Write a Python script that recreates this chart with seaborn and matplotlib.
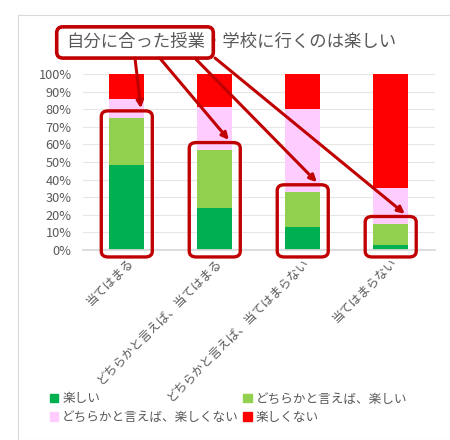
import matplotlib
matplotlib.use("Agg")
import matplotlib.pyplot as plt
import seaborn as sns
import numpy as np
import pandas as pd
from matplotlib.patches import FancyBboxPatch, Rectangle

categories = ["当てはまる", "どちらかと言えば、当てはまる", "どちらかと言えば、当てはまらない", "当てはまらない"]
series_names = ["楽しい", "どちらかと言えば、楽しい", "どちらかと言えば、楽しくない", "楽しくない"]
tanoshii = [48, 24, 13, 3]
dochira_tanoshii = [27, 33, 20, 12]
dochira_tanoshikunai = [11, 24, 47, 20]
tanoshikunai = [14, 19, 20, 65]
colors = ["#00B050", "#92D050", "#FFCCFF", "#FF0000"]
title = "自分に合った授業・学校に行くのは楽しい"
yticks = list(range(0, 101, 10))

sns.set_theme(style="white")
plt.rcParams["font.family"] = ["Noto Sans CJK JP", "DejaVu Sans"]

fig = plt.figure(figsize=(4.5, 4.4), dpi=100)
ax = fig.add_axes([0.184, 0.432, 0.782, 0.40])

series = [tanoshii, dochira_tanoshii, dochira_tanoshikunai, tanoshikunai]
cum = np.cumsum(np.array(series), axis=0)
for i in range(3, -1, -1):
    df = pd.DataFrame({"cat": categories, "val": cum[i]})
    sns.barplot(data=df, x="cat", y="val", color=colors[i], width=0.4,
                saturation=1, ax=ax, edgecolor="none", zorder=2)

ax.set_ylim(0, 100)
ax.set_xlim(-0.5, 3.5)
ax.set_yticks(yticks)
ax.set_yticklabels([f"{v}%" for v in yticks], fontsize=9.2, color="#595959")
ax.yaxis.grid(True, color="#E6E6E6", linewidth=0.8, zorder=0)
ax.set_axisbelow(True)
for s in ax.spines.values():
    s.set_visible(False)
ax.spines["bottom"].set_visible(True)
ax.spines["bottom"].set_color("#D9D9D9")
ax.tick_params(axis="y", length=0, pad=8)
ax.tick_params(axis="x", length=0, pad=4)
ax.set_xticks(range(len(categories)))
ax.set_xticklabels(categories, rotation=45, ha="right", rotation_mode="anchor",
                   fontsize=8.8, color="#595959")
ax.set_xlabel("")
ax.set_ylabel("")

# title
fig.text(0.513, 0.905, title, ha="center", va="center", fontsize=12.5, color="#595959")

# annotation: red box around title part
fig.patches.append(FancyBboxPatch((0.13, 0.872), 0.34, 0.063,
                                  boxstyle="round,pad=0.004,rounding_size=0.014",
                                  transform=fig.transFigure, fill=False,
                                  edgecolor="#C00000", linewidth=2.6, zorder=10))

# red boxes around green stacks and arrows
starts = [0.30, 0.355, 0.433, 0.478]
green_top = cum[1]
for i in range(4):
    top = green_top[i] + 4
    ax.add_patch(FancyBboxPatch((i - 0.29, -4), 0.58, top + 4,
                                boxstyle="round,pad=0,rounding_size=0.08",
                                mutation_aspect=40,
                                fill=False, edgecolor="#C00000", linewidth=2.4,
                                clip_on=False, zorder=5))
    ax.annotate("", xy=(i + 0.16, top + 1.5), xycoords="data",
                xytext=(starts[i], 0.868), textcoords="figure fraction",
                arrowprops=dict(arrowstyle="-|>", color="#C00000", lw=2.2,
                                mutation_scale=10, shrinkA=0, shrinkB=0),
                zorder=6)

# legend
handles = [Rectangle((0, 0), 1, 1, color=c) for c in colors]
order = [0, 2, 1, 3]
fig.legend([handles[k] for k in order], [series_names[k] for k in order],
           ncol=2, loc="upper left", bbox_to_anchor=(0.11, 0.108), frameon=False,
           fontsize=9.1, labelcolor="#595959", handlelength=0.7, handleheight=0.7,
           columnspacing=0.3, handletextpad=0.3, labelspacing=0.45,
           borderpad=0, borderaxespad=0)

# outer chart border
fig.patches.append(Rectangle((0.04, 0.0), 0.96, 0.965, transform=fig.transFigure,
                             fill=False, edgecolor="#D9D9D9", linewidth=0.8))

fig.savefig("out.png", dpi=100, facecolor="white")
